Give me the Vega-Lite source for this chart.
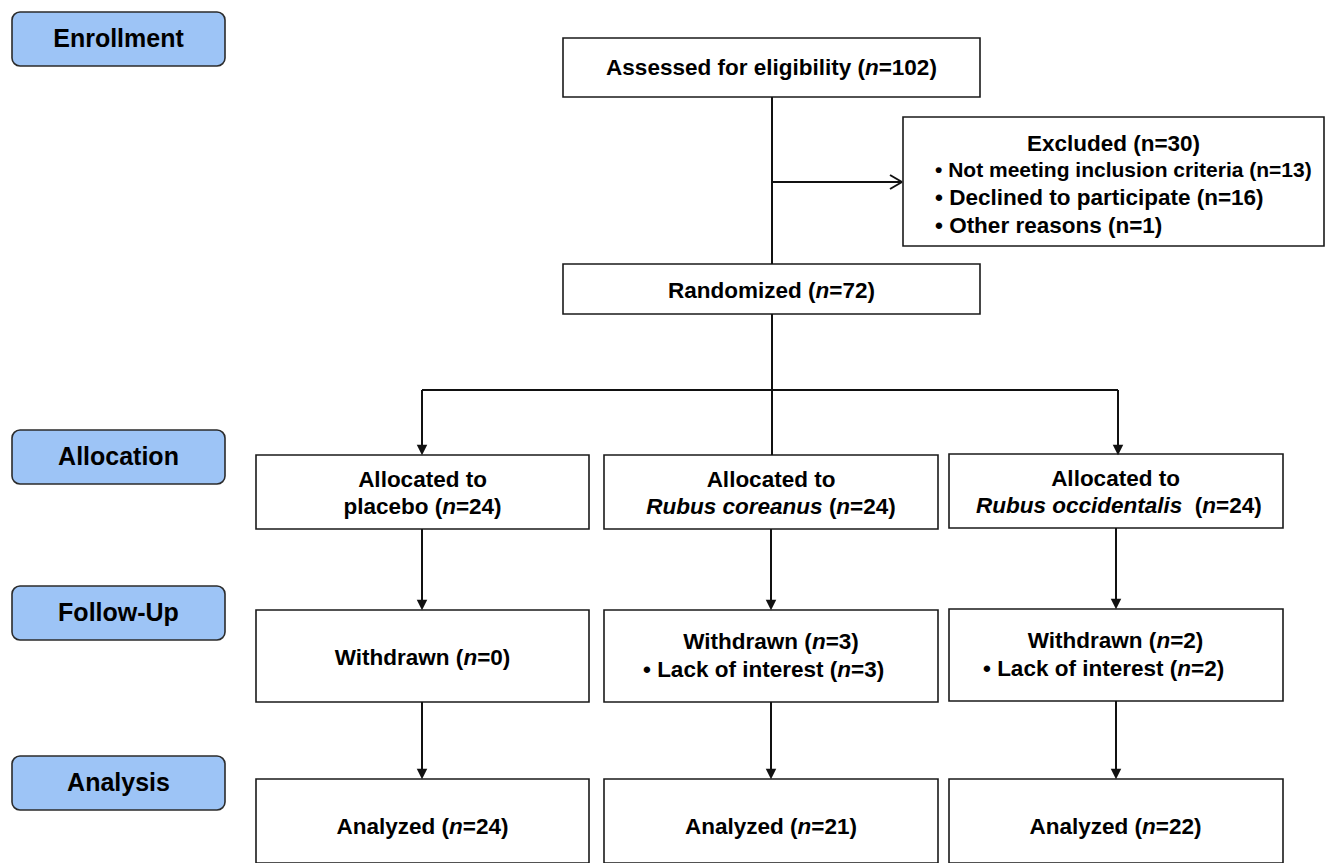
{
  "$schema": "https://vega.github.io/schema/vega-lite/v6.json",
  "width": 1327,
  "height": 863,
  "autosize": "none",
  "padding": 0,
  "background": "white",
  "config": {"view": {"stroke": null}},
  "datasets": {
    "boxes": [
      {"x": 12, "x2": 225, "y": 12, "y2": 66, "kind": "stage"},
      {"x": 12, "x2": 225, "y": 430, "y2": 484, "kind": "stage"},
      {"x": 12, "x2": 225, "y": 586, "y2": 640, "kind": "stage"},
      {"x": 12, "x2": 225, "y": 756, "y2": 810, "kind": "stage"},
      {"x": 563, "x2": 980, "y": 38, "y2": 97, "kind": "box"},
      {"x": 903, "x2": 1324, "y": 117, "y2": 246, "kind": "box"},
      {"x": 563, "x2": 980, "y": 264, "y2": 314, "kind": "box"},
      {"x": 256, "x2": 589, "y": 455, "y2": 529, "kind": "box"},
      {"x": 604, "x2": 938, "y": 455, "y2": 529, "kind": "box"},
      {"x": 949, "x2": 1283, "y": 454, "y2": 528, "kind": "box"},
      {"x": 256, "x2": 589, "y": 610, "y2": 702, "kind": "box"},
      {"x": 604, "x2": 938, "y": 610, "y2": 702, "kind": "box"},
      {"x": 949, "x2": 1283, "y": 609, "y2": 701, "kind": "box"},
      {"x": 256, "x2": 589, "y": 779, "y2": 863, "kind": "box"},
      {"x": 604, "x2": 938, "y": 779, "y2": 863, "kind": "box"},
      {"x": 949, "x2": 1283, "y": 779, "y2": 863, "kind": "box"}
    ],
    "lines": [
      {"x": 772, "y": 97, "x2": 772, "y2": 264},
      {"x": 772, "y": 182, "x2": 902, "y2": 182},
      {"x": 890, "y": 175, "x2": 902, "y2": 182},
      {"x": 890, "y": 189, "x2": 902, "y2": 182},
      {"x": 772, "y": 314, "x2": 772, "y2": 455},
      {"x": 422, "y": 390, "x2": 1118, "y2": 390},
      {"x": 422, "y": 390, "x2": 422, "y2": 446},
      {"x": 1118, "y": 390, "x2": 1118, "y2": 446},
      {"x": 422, "y": 529, "x2": 422, "y2": 601},
      {"x": 771, "y": 529, "x2": 771, "y2": 601},
      {"x": 1116, "y": 528, "x2": 1116, "y2": 600},
      {"x": 422, "y": 702, "x2": 422, "y2": 770},
      {"x": 771, "y": 702, "x2": 771, "y2": 770},
      {"x": 1116, "y": 701, "x2": 1116, "y2": 770}
    ],
    "heads": [
      {"x": 422, "y": 450}, {"x": 1118, "y": 450},
      {"x": 422, "y": 605}, {"x": 771, "y": 605}, {"x": 1116, "y": 604},
      {"x": 422, "y": 774}, {"x": 771, "y": 774}, {"x": 1116, "y": 774}
    ],
    "texts": [
      {"x": 118.5, "y": 39, "label": "Enrollment", "part": "stage"},
      {"x": 118.5, "y": 457, "label": "Allocation", "part": "stage"},
      {"x": 118.5, "y": 613, "label": "Follow-Up", "part": "stage"},
      {"x": 118.5, "y": 783, "label": "Analysis", "part": "stage"},
      {"x": 1113.5, "y": 144, "label": "Excluded (n=30)", "part": "heading"},
      {"x": 422.5, "y": 480, "label": "Allocated to", "part": "heading"},
      {"x": 771, "y": 480, "label": "Allocated to", "part": "heading"},
      {"x": 1115.5, "y": 479, "label": "Allocated to", "part": "heading"},
      {"x": 935, "y": 171, "label": "• Not meeting inclusion criteria (n=13)", "part": "tight"},
      {"x": 935, "y": 198, "label": "• Declined to participate (n=16)", "part": "text"},
      {"x": 935, "y": 226, "label": "• Other reasons (n=1)", "part": "text"},
      {"x": 606.1, "y": 68, "label": "Assessed for eligibility (", "part": "text"},
      {"x": 864.9, "y": 68, "label": "n", "part": "emph"},
      {"x": 878.7, "y": 68, "label": "=102)", "part": "text"},
      {"x": 668.0, "y": 291, "label": "Randomized (", "part": "text"},
      {"x": 815.5, "y": 291, "label": "n", "part": "emph"},
      {"x": 829.3, "y": 291, "label": "=72)", "part": "text"},
      {"x": 343.4, "y": 507, "label": "placebo (", "part": "text"},
      {"x": 442.2, "y": 507, "label": "n", "part": "emph"},
      {"x": 455.9, "y": 507, "label": "=24)", "part": "text"},
      {"x": 646.3, "y": 507, "label": "Rubus coreanus", "part": "emph"},
      {"x": 828.9, "y": 507, "label": "(", "part": "text"},
      {"x": 836.3, "y": 507, "label": "n", "part": "emph"},
      {"x": 850.1, "y": 507, "label": "=24)", "part": "text"},
      {"x": 976, "y": 506, "label": "Rubus occidentalis", "part": "emph"},
      {"x": 1194.8, "y": 506, "label": "(", "part": "text"},
      {"x": 1202.3, "y": 506, "label": "n", "part": "emph"},
      {"x": 1216.1, "y": 506, "label": "=24)", "part": "text"},
      {"x": 334.7, "y": 658, "label": "Withdrawn (", "part": "text"},
      {"x": 463.4, "y": 658, "label": "n", "part": "emph"},
      {"x": 477.2, "y": 658, "label": "=0)", "part": "text"},
      {"x": 683.2, "y": 642, "label": "Withdrawn (", "part": "text"},
      {"x": 811.9, "y": 642, "label": "n", "part": "emph"},
      {"x": 825.7, "y": 642, "label": "=3)", "part": "text"},
      {"x": 643, "y": 670, "label": "• Lack of interest (", "part": "text"},
      {"x": 837.2, "y": 670, "label": "n", "part": "emph"},
      {"x": 851.0, "y": 670, "label": "=3)", "part": "text"},
      {"x": 1027.7, "y": 641, "label": "Withdrawn (", "part": "text"},
      {"x": 1156.4, "y": 641, "label": "n", "part": "emph"},
      {"x": 1170.2, "y": 641, "label": "=2)", "part": "text"},
      {"x": 983, "y": 669, "label": "• Lack of interest (", "part": "text"},
      {"x": 1177.2, "y": 669, "label": "n", "part": "emph"},
      {"x": 1191.0, "y": 669, "label": "=2)", "part": "text"},
      {"x": 336.5, "y": 827, "label": "Analyzed (", "part": "text"},
      {"x": 449.0, "y": 827, "label": "n", "part": "emph"},
      {"x": 462.8, "y": 827, "label": "=24)", "part": "text"},
      {"x": 685.0, "y": 827, "label": "Analyzed (", "part": "text"},
      {"x": 797.5, "y": 827, "label": "n", "part": "emph"},
      {"x": 811.3, "y": 827, "label": "=21)", "part": "text"},
      {"x": 1029.5, "y": 827, "label": "Analyzed (", "part": "text"},
      {"x": 1142.0, "y": 827, "label": "n", "part": "emph"},
      {"x": 1155.8, "y": 827, "label": "=22)", "part": "text"}
    ]
  },
  "encoding": {
    "x": {"field": "x", "type": "quantitative", "scale": {"domain": [0, 1327], "nice": false, "zero": false}, "axis": null},
    "y": {"field": "y", "type": "quantitative", "scale": {"domain": [0, 863], "nice": false, "zero": false, "reverse": true}, "axis": null}
  },
  "layer": [
    {
      "data": {"name": "boxes"},
      "transform": [{"filter": "datum.kind === 'stage'"}],
      "mark": {"type": "rect", "fill": "#9dc4f6", "stroke": "#2b2b2b", "strokeWidth": 1.6, "cornerRadius": 8},
      "encoding": {"x2": {"field": "x2"}, "y2": {"field": "y2"}}
    },
    {
      "data": {"name": "boxes"},
      "transform": [{"filter": "datum.kind === 'box'"}],
      "mark": {"type": "rect", "fill": "white", "stroke": "#1a1a1a", "strokeWidth": 1.6, "clip": true},
      "encoding": {"x2": {"field": "x2"}, "y2": {"field": "y2"}}
    },
    {
      "data": {"name": "lines"},
      "mark": {"type": "rule", "color": "#111111", "strokeWidth": 2},
      "encoding": {"x2": {"field": "x2"}, "y2": {"field": "y2"}}
    },
    {
      "data": {"name": "heads"},
      "mark": {"type": "point", "shape": "M-1,-1L1,-1L0,1Z", "filled": true, "color": "#111111", "size": 110, "opacity": 1, "strokeWidth": 0}
    },
    {
      "data": {"name": "texts"},
      "transform": [{"filter": "datum.part === 'stage'"}],
      "mark": {"type": "text", "font": "Liberation Sans", "fontWeight": "bold", "fontSize": 25, "align": "center", "baseline": "middle", "color": "#000000"},
      "encoding": {"text": {"field": "label"}}
    },
    {
      "data": {"name": "texts"},
      "transform": [{"filter": "datum.part === 'heading'"}],
      "mark": {"type": "text", "font": "Liberation Sans", "fontWeight": "bold", "fontSize": 22.5, "align": "center", "baseline": "middle", "color": "#000000"},
      "encoding": {"text": {"field": "label"}}
    },
    {
      "data": {"name": "texts"},
      "transform": [{"filter": "datum.part === 'tight'"}],
      "mark": {"type": "text", "font": "Liberation Sans", "fontWeight": "bold", "fontSize": 21, "align": "left", "baseline": "middle", "color": "#000000"},
      "encoding": {"text": {"field": "label"}}
    },
    {
      "data": {"name": "texts"},
      "transform": [{"filter": "datum.part === 'text'"}],
      "mark": {"type": "text", "font": "Liberation Sans", "fontWeight": "bold", "fontSize": 22.5, "align": "left", "baseline": "middle", "color": "#000000"},
      "encoding": {"text": {"field": "label"}}
    },
    {
      "data": {"name": "texts"},
      "transform": [{"filter": "datum.part === 'emph'"}],
      "mark": {"type": "text", "font": "Liberation Sans", "fontWeight": "bold", "fontStyle": "italic", "fontSize": 22.5, "align": "left", "baseline": "middle", "color": "#000000"},
      "encoding": {"text": {"field": "label"}}
    }
  ]
}
